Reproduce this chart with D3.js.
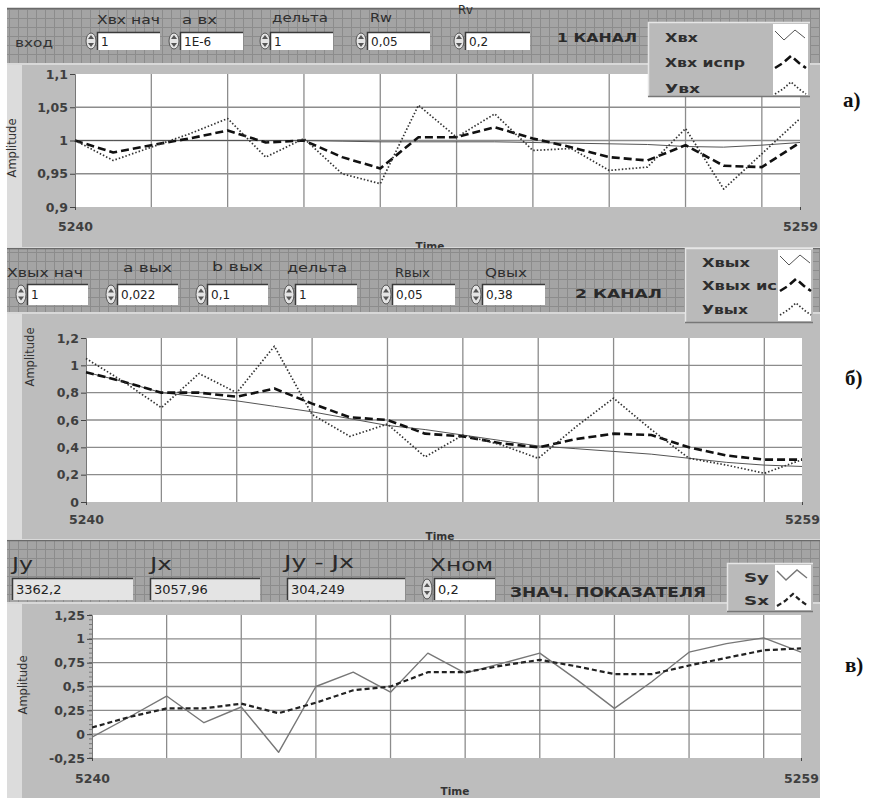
<!DOCTYPE html>
<html><head><meta charset="utf-8">
<script src="https://cdn.jsdelivr.net/npm/d3@7"></script>
<style>body{margin:0;background:#fff;}svg{display:block;}</style>
</head><body>
<svg id="c" width="869" height="798"></svg>
<script>
// ---------- data ----------
const times = [5240,5241,5242,5243,5244,5245,5246,5247,5248,5249,5250,5251,5252,5253,5254,5255,5256,5257,5258,5259];
const gridTimes = [5242,5244,5246,5248,5250,5252,5254,5256,5258];
const edgeTimes = [5240,5259];

// Panel a) 1 КАНАЛ
const xIn     = [1.000,1.000,1.000,1.000,1.000,1.000,1.000,0.999,0.998,0.998,0.998,0.998,0.997,0.996,0.995,0.994,0.991,0.990,0.993,0.997];
const xInCorr = [1.000,0.982,0.993,1.003,1.015,0.997,1.000,0.975,0.958,1.005,1.005,1.020,1.003,0.990,0.975,0.970,0.993,0.962,0.960,0.997];
const yIn     = [1.000,0.970,0.990,1.010,1.033,0.975,1.003,0.950,0.935,1.053,1.005,1.040,0.985,0.988,0.955,0.960,1.018,0.927,0.980,1.033];

// Panel б) 2 КАНАЛ
const xOut     = [0.95,0.88,0.80,0.77,0.74,0.70,0.66,0.61,0.56,0.53,0.49,0.45,0.41,0.39,0.37,0.35,0.32,0.29,0.27,0.26];
const xOutCorr = [0.95,0.88,0.80,0.80,0.77,0.83,0.72,0.62,0.60,0.50,0.48,0.43,0.40,0.46,0.50,0.49,0.40,0.34,0.31,0.31];
const yOut     = [1.05,0.88,0.69,0.94,0.80,1.14,0.64,0.48,0.57,0.33,0.49,0.42,0.32,0.55,0.76,0.53,0.32,0.27,0.21,0.31];

// Panel в) ЗНАЧ. ПОКАЗАТЕЛЯ
const sy = [-0.03,0.18,0.40,0.12,0.285,-0.19,0.50,0.65,0.44,0.85,0.64,0.745,0.85,0.57,0.27,0.55,0.86,0.95,1.01,0.86];
const sx = [0.07,0.18,0.27,0.27,0.32,0.22,0.33,0.46,0.50,0.65,0.65,0.72,0.78,0.71,0.63,0.63,0.72,0.80,0.88,0.90];

const ticks1 = [0.9,0.95,1,1.05,1.1];      const tickLabels1 = ["0,9","0,95","1","1,05","1,1"];
const ticks2 = [0,0.2,0.4,0.6,0.8,1,1.2];  const tickLabels2 = ["0","0,2","0,4","0,6","0,8","1","1,2"];
const ticks3 = [-0.25,0,0.25,0.5,0.75,1,1.25]; const tickLabels3 = ["-0,25","0","0,25","0,5","0,75","1","1,25"];

const legend1 = ["Хвх","Хвх испр","Увх"];
const legend2 = ["Хвых","Хвых испр","Увых"];
const legend3 = ["Sy","Sx"];

const ctrlLabels1 = ["Хвх нач","а вх","дельта","Rw","Rv"];
const ctrlValues1 = ["1","1E-6","1","0,05","0,2"];
const ctrlLabels2 = ["Хвых нач","а вых","b вых","дельта","Rвых","Qвых"];
const ctrlValues2 = ["1","0,022","0,1","1","0,05","0,38"];
const indLabels3 = ["Jy","Jx","Jy - Jx","Хном"];
const indValues3 = ["3362,2","3057,96","304,249","0,2"];

const titles = ["1 КАНАЛ","2 КАНАЛ","ЗНАЧ. ПОКАЗАТЕЛЯ"];
const sideLabels = ["а)","б)","в)"];

// ---------- drawing ----------
const svg = d3.select('#c');
const FONT = "'DejaVu Sans', Verdana, sans-serif";
const defs = svg.append('defs');
const pat = defs.append('pattern').attr('id','grid').attr('width',9).attr('height',9).attr('patternUnits','userSpaceOnUse');
pat.append('rect').attr('width',9).attr('height',9).attr('fill','#a4a4a4');
pat.append('path').attr('d','M0,0.5H9M0.5,0V9').attr('stroke','#8c8c8c').attr('stroke-width',1);

function strip(y0,y1){
  svg.append('rect').attr('x',7).attr('y',y0).attr('width',813).attr('height',y1-y0).attr('fill','url(#grid)');
  svg.append('line').attr('x1',7).attr('x2',820).attr('y1',y0+0.5).attr('y2',y0+0.5).attr('stroke','#6a6a6a').attr('stroke-width',1.5);
}
function frame(y0,y1){
  svg.append('rect').attr('x',7).attr('y',y0).attr('width',813).attr('height',y1-y0).attr('fill','#bdbdbd');
  svg.append('rect').attr('x',7).attr('y',y0).attr('width',15).attr('height',y1-y0).attr('fill','#dcdcdc');
  svg.append('line').attr('x1',7).attr('x2',820).attr('y1',y0+1).attr('y2',y0+1).attr('stroke','#d8d8d8').attr('stroke-width',2);
}
function text(x,y,s,opt={}){
  const t = svg.append('text').attr('x',x).attr('y',y).text(s)
    .attr('font-family',opt.family||FONT).attr('font-size',opt.size||11)
    .attr('font-weight',opt.weight||'normal').attr('fill',opt.fill||'#2a2a2a');
  if(opt.anchor) t.attr('text-anchor',opt.anchor);
  if(opt.len) t.attr('textLength',opt.len).attr('lengthAdjust','spacingAndGlyphs');
  return t;
}
function spinner(x,y0,y1){
  const cy=(y0+y1)/2;
  svg.append('ellipse').attr('cx',x+6).attr('cy',cy).attr('rx',5).attr('ry',(y1-y0)/2-1)
    .attr('fill','#e4e4e4').attr('stroke','#555').attr('stroke-width',1);
  svg.append('path').attr('d',`M${x+3},${cy-2}L${x+6},${cy-6}L${x+9},${cy-2}Z M${x+3},${cy+2}L${x+6},${cy+6}L${x+9},${cy+2}Z`).attr('fill','#555');
}
function box(x0,x1,y0,y1,val,fill,size){
  svg.append('rect').attr('x',x0).attr('y',y0).attr('width',x1-x0).attr('height',y1-y0).attr('fill',fill);
  svg.append('path').attr('d',`M${x0+0.5},${y1}V${y0+0.5}H${x1}`).attr('fill','none').attr('stroke','#3a3a3a').attr('stroke-width',1.5);
  text(x0+4,(y0+y1)/2+4.5,val,{size:size||12,fill:'#222'});
}

function drawPlot(cfg){
  const x = d3.scaleLinear().domain([5240,5259]).range([cfg.x0,cfg.x1]);
  const y = d3.scaleLinear().domain(cfg.dom).range([cfg.y1,cfg.y0]);
  svg.append('rect').attr('x',cfg.x0).attr('y',cfg.y0).attr('width',cfg.x1-cfg.x0).attr('height',cfg.y1-cfg.y0).attr('fill','#fff');
  const g = svg.append('g');
  g.selectAll('.vg').data(gridTimes).join('line')
    .attr('x1',d=>x(d)).attr('x2',d=>x(d)).attr('y1',cfg.y0).attr('y2',cfg.y1)
    .attr('stroke','#8c8c8c').attr('stroke-width',1.3);
  g.selectAll('.hg').data(cfg.ticks.slice(1,-1)).join('line')
    .attr('x1',cfg.x0).attr('x2',cfg.x1).attr('y1',d=>y(d)).attr('y2',d=>y(d))
    .attr('stroke','#8c8c8c').attr('stroke-width',1.3);
  if(cfg.minor){
    const mt = d3.range(cfg.dom[0], cfg.dom[1]+1e-9, cfg.minor);
    svg.append('g').selectAll('line').data(mt).join('line')
      .attr('x1',cfg.x0-3).attr('x2',cfg.x0).attr('y1',d=>y(d)).attr('y2',d=>y(d))
      .attr('stroke','#666').attr('stroke-width',0.8);
  }
  const ya = svg.append('g').attr('transform',`translate(${cfg.x0},0)`)
    .call(d3.axisLeft(y).tickValues(cfg.ticks).tickFormat((d,i)=>cfg.labels[i]).tickSize(5).tickPadding(2));
  ya.select('.domain').attr('stroke','#777');
  ya.selectAll('.tick line').attr('stroke','#444');
  ya.selectAll('text').attr('font-family',FONT).attr('font-size',12.5).attr('fill','#2a2a2a').attr('font-weight','bold').attr('opacity',0.85);
  const xa = svg.append('g').attr('transform',`translate(0,${cfg.y1})`)
    .call(d3.axisBottom(x).tickValues(edgeTimes).tickFormat(d3.format('d')).tickSize(3).tickPadding(cfg.xpad));
  xa.select('.domain').remove();
  xa.selectAll('.tick line').attr('stroke','#444');
  xa.selectAll('text').attr('font-family',FONT).attr('font-size',12.5).attr('fill','#2a2a2a').attr('font-weight','bold').attr('opacity',0.85);
  const line = d3.line().x((d,i)=>x(times[i])).y(d=>y(d));
  cfg.series.forEach(s=>{
    svg.append('path').datum(s.data).attr('d',line).attr('fill','none')
      .attr('stroke',s.color).attr('stroke-width',s.width)
      .attr('stroke-dasharray',s.dash||null).attr('stroke-linejoin','round');
  });
  text(cfg.ampX, cfg.ampY, 'Amplitude', {size:11.5, anchor:'middle', fill:'#333'})
    .attr('transform',`rotate(-90,${cfg.ampX},${cfg.ampY})`);
  text(cfg.timeX, cfg.timeY, 'Time', {size:10.5, anchor:'middle', weight:'bold', fill:'#333'});
}

function legend(x0,y0,x1,y1,iconX,items,rows,lens,styles,clipId){
  svg.append('rect').attr('x',x0).attr('y',y0).attr('width',x1-x0).attr('height',y1-y0).attr('fill','#bababa');
  svg.append('path').attr('d',`M${x0+0.5},${y1}V${y0+0.5}H${x1}`).attr('fill','none').attr('stroke','#e6e6e6').attr('stroke-width',1.5);
  svg.append('path').attr('d',`M${x0},${y1-0.5}H${x1}`).attr('fill','none').attr('stroke','#777').attr('stroke-width',1.5);
  svg.append('rect').attr('x',iconX).attr('y',y0+2).attr('width',x1-iconX-2).attr('height',y1-y0-4).attr('fill','#fff');
  defs.append('clipPath').attr('id',clipId).append('rect').attr('x',x0).attr('y',y0).attr('width',iconX-x0-1).attr('height',y1-y0);
  items.forEach((s,i)=>{
    text(x0+17,rows[i]+5,s,{size:13,weight:'bold',fill:'#2e2e2e',len:lens[i]}).attr('clip-path',`url(#${clipId})`);
    const cx=iconX+2, cy=rows[i], st=styles[i];
    const d = i===0 ? `M${cx},${cy-6}L${cx+9},${cy+3}L${cx+20},${cy-7}L${cx+30},${cy+1}`
                    : `M${cx},${cy+6}L${cx+8},${cy+1}L${cx+16},${cy-6}L${cx+24},${cy+1}L${cx+31},${cy+6}`;
    svg.append('path').attr('d',d).attr('fill','none').attr('stroke',st.color)
      .attr('stroke-width',st.width).attr('stroke-dasharray',st.dash||null);
  });
}

const thin = {color:'#555', width:1};
const dashB = {color:'#111', width:2.6, dash:'8,4'};
const dots = {color:'#333', width:1.7, dash:'1.5,2'};
const syS = {color:'#777', width:1.4};
const sxS = {color:'#222', width:2.2, dash:'5,3'};

// ===== Panel 1 =====
strip(8,63);
frame(63,247);
text(15,47,'вход',{size:12,fill:'#333',len:38});
const lab1 = [[97,24],[182,24],[272,22],[370,22],[458,14]];
const len1 = [63,35,56,22,15];
const box1 = [[85,97,160],[168,180,243],[259,270,333],[355,367,430],[453,465,530]];
ctrlLabels1.forEach((l,i)=>{
  text(lab1[i][0],lab1[i][1],l,{size:12,fill:'#2e2e2e',len:len1[i]});
  spinner(box1[i][0],32,50);
  box(box1[i][1],box1[i][2],32,50,ctrlValues1[i],'#fff');
});
text(557,42,titles[0],{size:13,weight:'bold',fill:'#2a2a2a',len:80});
drawPlot({x0:75,x1:800,y0:74,y1:207,dom:[0.9,1.1],ticks:ticks1,labels:tickLabels1,xpad:12,
  ampX:16,ampY:148,timeX:430,timeY:250,
  series:[{data:xIn,...thin},{data:xInCorr,...dashB},{data:yIn,...dots}]});
legend(648,22,810,97,773,legend1,[37,62,88],[33,80,35],[thin,dashB,dots],'cl1');

// ===== Panel 2 =====
strip(248,312);
frame(312,539);
const lab2 = [[7,277],[123,272],[212,271],[287,272],[395,277],[485,277]];
const len2 = [76,49,51,60,35,42];
const box2 = [[15,27,88],[105,117,178],[195,207,268],[283,295,357],[380,392,455],[470,482,545]];
ctrlLabels2.forEach((l,i)=>{
  text(lab2[i][0],lab2[i][1],l,{size:12,fill:'#2e2e2e',len:len2[i]});
  spinner(box2[i][0],284,305);
  box(box2[i][1],box2[i][2],284,305,ctrlValues2[i],'#fff');
});
text(575,298,titles[1],{size:13,weight:'bold',fill:'#2a2a2a',len:87});
drawPlot({x0:86,x1:802,y0:338,y1:502,dom:[0,1.2],ticks:ticks2,labels:tickLabels2,xpad:10,
  ampX:34,ampY:357,timeX:440,timeY:540,
  series:[{data:xOut,...thin},{data:xOutCorr,...dashB},{data:yOut,...dots}]});
legend(685,248,813,323,778,legend2,[262,285,309],[48,98,46],[thin,dashB,dots],'cl2');

// ===== Panel 3 =====
strip(540,602);
frame(602,798);
const lab3 = [[12,570],[150,570],[284,568],[430,571]];
const lenLab3 = [21,22,70,63];
indLabels3.forEach((l,i)=>text(lab3[i][0],lab3[i][1],l,{size:17,fill:'#2a2a2a',len:lenLab3[i]}));
box(12,133,578,600,indValues3[0],'#e4e4e4',13);
box(150,260,578,600,indValues3[1],'#e4e4e4',13);
box(287,405,578,600,indValues3[2],'#e4e4e4',13);
spinner(421,578,600);
box(434,495,578,600,indValues3[3],'#fff',13);
text(510,597,titles[2],{size:14,weight:'bold',fill:'#2a2a2a',len:196});
drawPlot({x0:92,x1:801,y0:615,y1:758,dom:[-0.25,1.25],ticks:ticks3,labels:tickLabels3,xpad:13,minor:0.05,
  ampX:27,ampY:685,timeX:455,timeY:795,
  series:[{data:sy,...syS},{data:sx,...sxS}]});
legend(727,563,813,612,775,legend3,[577,600],[25,25],[syS,sxS],'cl3');

// side labels
const sidePos = [[843,107],[845,385],[845,672]];
sideLabels.forEach((s,i)=>text(sidePos[i][0],sidePos[i][1],s,{size:21,weight:'bold',fill:'#111',family:"'Liberation Serif','Times New Roman',serif"}));
</script>
</body></html>
